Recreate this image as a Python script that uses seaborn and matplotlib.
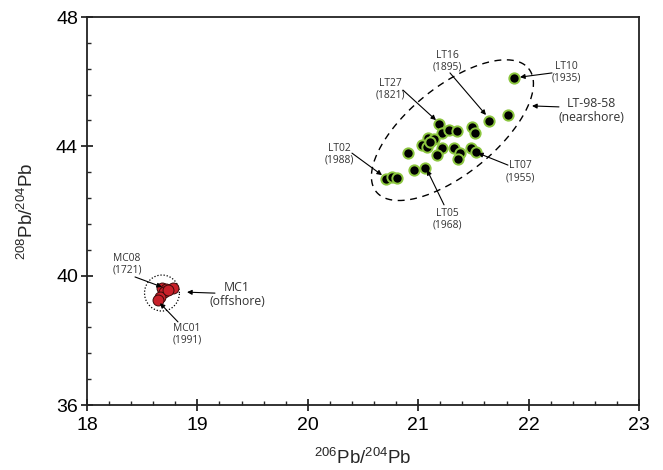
import numpy as np
import pandas as pd
import matplotlib
matplotlib.use("Agg")
import matplotlib.pyplot as plt
from matplotlib.ticker import MultipleLocator
import seaborn as sns

# ---- data ----
lt_x = [21.87, 21.64, 21.81, 21.19, 21.22, 21.28, 21.35, 21.49, 21.51, 21.09,
        21.14, 21.03, 21.08, 20.91, 21.22, 21.17, 21.32, 21.38, 21.36, 21.48,
        21.52, 20.96, 21.06, 20.71, 20.76, 20.81, 21.11]
lt_y = [46.12, 44.79, 44.97, 44.68, 44.42, 44.50, 44.47, 44.61, 44.40, 44.27,
        44.22, 44.04, 43.99, 43.80, 43.94, 43.73, 43.94, 43.78, 43.61, 43.96,
        43.83, 43.27, 43.32, 42.98, 43.06, 43.03, 44.12]
mc_x = [18.68, 18.72, 18.78, 18.70, 18.66, 18.64, 18.73]
mc_y = [39.61, 39.58, 39.61, 39.49, 39.35, 39.25, 39.55]

x_ticks = [18, 19, 20, 21, 22, 23]
y_ticks = [36, 40, 44, 48]

lt_df = pd.DataFrame({"x": lt_x, "y": lt_y})
mc_df = pd.DataFrame({"x": mc_x, "y": mc_y})

sns.set_style("ticks")
plt.rcParams["font.family"] = ["Liberation Sans", "DejaVu Sans"]
plt.rcParams["mathtext.default"] = "regular"

fig = plt.figure(figsize=(6.63, 4.70), dpi=100)
ax = fig.add_axes([87 / 663, 1 - 405 / 470, 552 / 663, 388 / 470])

sns.scatterplot(data=lt_df, x="x", y="y", ax=ax, s=55, color="black",
                edgecolor="#8cc63f", linewidth=1.4, zorder=3, legend=False)
sns.scatterplot(data=mc_df, x="x", y="y", ax=ax, s=62, color="#c8202a",
                edgecolor="#3a0a0a", linewidth=0.7, zorder=3, legend=False)

# enclosing ellipses
t = np.linspace(0, 2 * np.pi, 300)
cx, cy = 21.31, 44.50
ex = cx + np.cos(t) * 0.690 + np.sin(t) * 0.250
ey = cy + np.cos(t) * 1.906 + np.sin(t) * (-1.05)
ax.plot(ex, ey, color="black", lw=1.0, ls=(0, (5, 4)), zorder=2)
mx = 18.679 + 0.158 * np.cos(t)
my = 39.463 + 0.557 * np.sin(t)
ax.plot(mx, my, color="black", lw=0.9, ls=(0, (1, 1.5)), zorder=2)

ax.set_xlim(18, 23)
ax.set_ylim(36, 48)
ax.set_xticks(x_ticks)
ax.set_yticks(y_ticks)
ax.xaxis.set_minor_locator(MultipleLocator(0.2))
ax.yaxis.set_minor_locator(MultipleLocator(0.8))
ax.tick_params(which="major", direction="inout", length=9, width=1.1,
               labelsize=14, colors="black", pad=2)
ax.tick_params(axis="x", which="major", pad=4)
ax.tick_params(which="minor", direction="in", length=3, width=1.0)
for sp in ax.spines.values():
    sp.set_linewidth(1.3)
    sp.set_color("#222222")

ax.set_xlabel(r"$^{206}$Pb/$^{204}$Pb", fontsize=13.5, labelpad=10)
ax.set_ylabel(r"$^{208}$Pb/$^{204}$Pb", fontsize=13.5, labelpad=14)

afont = ["Open Sans", "DejaVu Sans"]
small = 7.4
big = 8.8

def label(txt, pos, tail, head, size=small):
    ax.text(pos[0], pos[1], txt, ha="center", va="center", fontsize=size,
            family=afont, color="#333333", linespacing=1.1, zorder=4)
    ax.annotate("", xy=head, xytext=tail,
                arrowprops=dict(arrowstyle="-|>", color="black", lw=0.8,
                                mutation_scale=7, shrinkA=0, shrinkB=0),
                zorder=4)

label("LT16\n(1895)", (21.261, 46.64), (21.288, 46.27), (21.614, 44.97))
label("LT27\n(1821)", (20.745, 45.77), (20.862, 45.74), (21.161, 44.81))
label("LT10\n(1935)", (22.339, 46.30), (22.212, 46.27), (21.922, 46.14))
label("LT-98-58\n(nearshore)", (22.565, 45.12), (22.275, 45.22), (22.031, 45.25), big)
label("LT02\n(1988)", (20.283, 43.76), (20.400, 43.79), (20.672, 43.11))
label("LT05\n(1968)", (21.261, 41.75), (21.234, 42.19), (21.080, 43.27))
label("LT07\n(1955)", (21.922, 43.21), (21.813, 43.42), (21.542, 43.79))
label("MC08\n(1721)", (18.362, 40.36), (18.435, 39.96), (18.679, 39.65))
label("MC01\n(1991)", (18.906, 38.19), (18.824, 38.57), (18.661, 39.15))
label("MC1\n(offshore)", (19.359, 39.43), (19.159, 39.46), (18.906, 39.49), big)

fig.savefig("out.png", dpi=100)
